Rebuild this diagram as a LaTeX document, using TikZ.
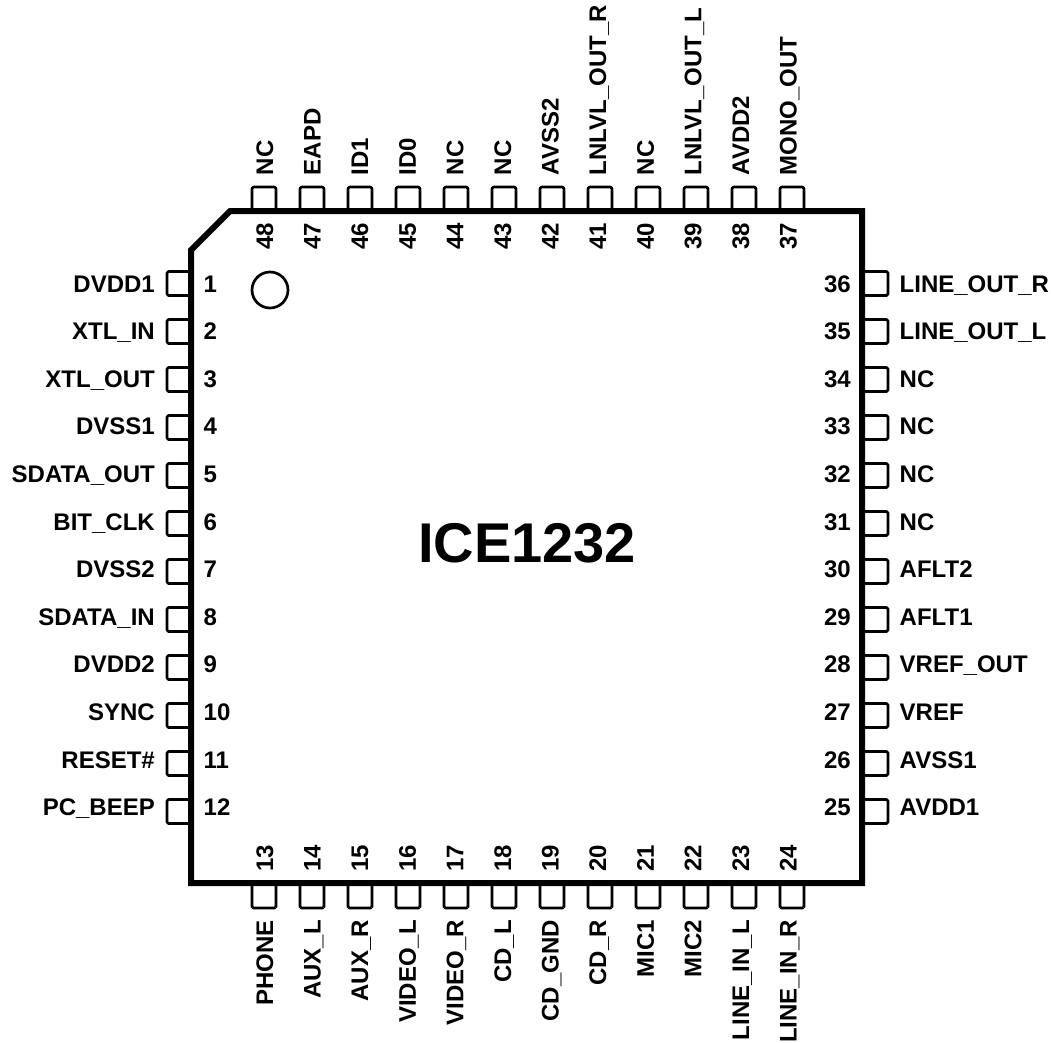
\documentclass[tikz,border=0pt]{standalone}
\usepackage{fontspec}
\setmainfont{Liberation Sans}
\tikzset{
  x=1pt,y=-1pt,
  body/.style={line width=6pt,miter limit=10},
  pinbox/.style={line width=2.7pt,line join=round,rounded corners=1.5pt},
  pinlabel/.style={font=\fontsize{24}{26}\selectfont\bfseries,inner sep=0pt},
  title/.style={font=\fontsize{56}{58}\selectfont\bfseries,inner sep=0pt},
  mark circle/.style={line width=2.7pt}
}
\begin{document}
\begin{tikzpicture}
\useasboundingbox (0,0) rectangle (1051,1042);
\draw[body] (230,211) -- (862,211) -- (862,883) -- (191,883) -- (191,250) -- cycle;
\node[circle,draw,mark circle,minimum size=36pt,inner sep=0pt] (dot) at (270,290) {};
\node[title,anchor=base] (chip) at (527,562) {ICE1232};
% left side
\foreach \n/\t [count=\i from 0] in {1/DVDD1,2/XTL\_IN,3/XTL\_OUT,4/DVSS1,5/SDATA\_OUT,6/BIT\_CLK,7/DVSS2,8/SDATA\_IN,9/DVDD2,10/SYNC,11/RESET\#,12/PC\_BEEP}{
  \pgfmathsetmacro\py{283.5+48*\i}
  \pgfmathsetmacro\by{292+47.6*\i}
  \draw[pinbox] (190,\py-12) -- (167,\py-12) -- (167,\py+12) -- (190,\py+12);
  \node[pinlabel,anchor=base east] (ll\n) at (155,\by) {\t};
  \node[pinlabel,anchor=base west] (ln\n) at (203.5,\by) {\n};
}
% right side
\foreach \n/\t [count=\i from 0] in {36/LINE\_OUT\_R,35/LINE\_OUT\_L,34/NC,33/NC,32/NC,31/NC,30/AFLT2,29/AFLT1,28/VREF\_OUT,27/VREF,26/AVSS1,25/AVDD1}{
  \pgfmathsetmacro\py{283.5+48*\i}
  \pgfmathsetmacro\by{292+47.6*\i}
  \draw[pinbox] (863,\py-12) -- (888,\py-12) -- (888,\py+12) -- (863,\py+12);
  \node[pinlabel,anchor=base west] (rl\n) at (899.5,\by) {\t};
  \node[pinlabel,anchor=base east] (rn\n) at (851,\by) {\n};
}
% top side
\foreach \n/\t [count=\i from 0] in {48/NC,47/EAPD,46/ID1,45/ID0,44/NC,43/NC,42/AVSS2,41/LNLVL\_OUT\_R,40/NC,39/LNLVL\_OUT\_L,38/AVDD2,37/MONO\_OUT}{
  \pgfmathsetmacro\px{264+48*\i}
  \pgfmathsetmacro\bx{273+47.6*\i}
  \draw[pinbox] (\px-12,210) -- (\px-12,187) -- (\px+12,187) -- (\px+12,210);
  \node[pinlabel,rotate=90,anchor=base west] (tl\n) at (\bx,175.5) {\t};
  \node[pinlabel,rotate=90,anchor=base east] (tn\n) at (\bx,223) {\n};
}
% bottom side
\foreach \n/\t [count=\i from 0] in {13/PHONE,14/AUX\_L,15/AUX\_R,16/VIDEO\_L,17/VIDEO\_R,18/CD\_L,19/CD\_GND,20/CD\_R,21/MIC1,22/MIC2,23/LINE\_IN\_L,24/LINE\_IN\_R}{
  \pgfmathsetmacro\px{264+48*\i}
  \pgfmathsetmacro\bx{273+47.6*\i}
  \draw[pinbox] (\px-12,884) -- (\px-12,908) -- (\px+12,908) -- (\px+12,884);
  \node[pinlabel,rotate=90,anchor=base east] (bl\n) at (\bx,920) {\t};
  \node[pinlabel,rotate=90,anchor=base west] (bn\n) at (\bx,872) {\n};
}
\end{tikzpicture}
\end{document}
